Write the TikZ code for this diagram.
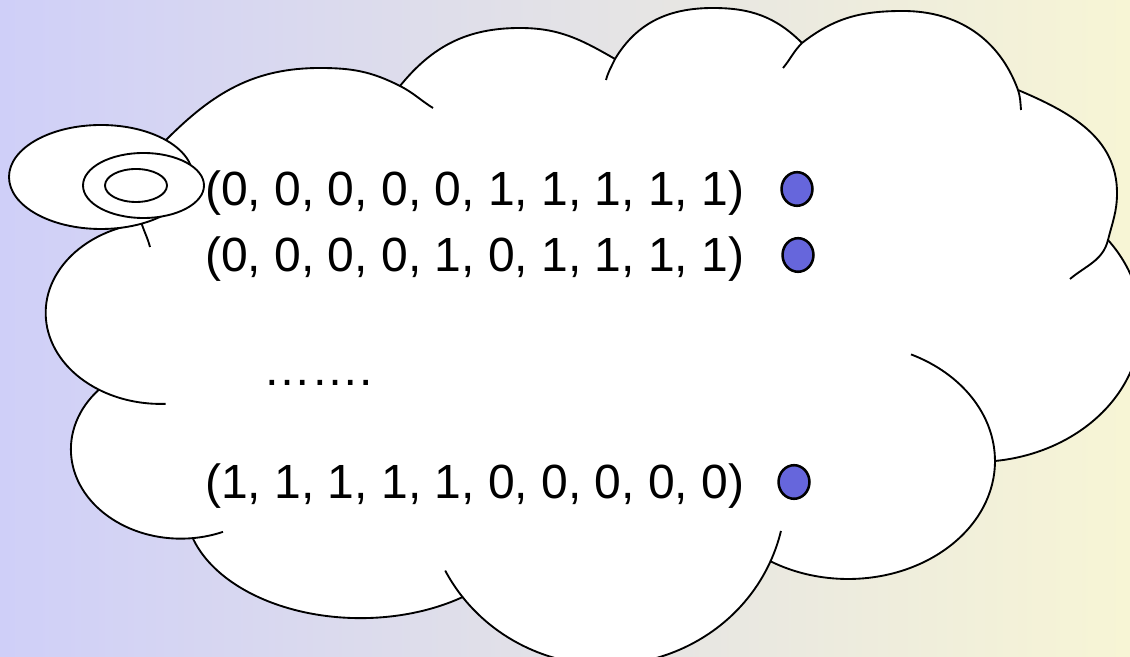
\documentclass[tikz,border=0pt]{standalone}
\usepackage{fontspec}
\setmainfont{Liberation Sans}
\usetikzlibrary{shapes.geometric}
\definecolor{bgleft}{RGB}{207,207,248}
\definecolor{bgright}{RGB}{247,245,213}
\definecolor{dotblue}{RGB}{102,102,220}
\begin{document}
\begin{tikzpicture}[x=0.75pt,y=0.75pt,
  outline/.style={draw=black,line width=1.4pt,line join=round},
  cloudbody/.style={outline,fill=white},
  bubble/.style={cloudbody,shape=ellipse,inner sep=0pt},
  rowtext/.style={anchor=base west,inner sep=0pt,font=\fontsize{36pt}{43pt}\selectfont},
  marker/.style={shape=ellipse,draw=black,line width=1.9pt,fill=dotblue,inner sep=0pt,
                 minimum width=23.2pt,minimum height=25.2pt}]
\useasboundingbox (0,0) rectangle (1130,656);
\clip (0,0) rectangle (1130,656);
% background
\shade[left color=bgleft,right color=bgright] (0,0) rectangle (1130,656);

% cloud outline: bezier lobes along the top, elliptic lobes round the bottom
\draw[cloudbody] (141.5,432.8) coordinate (p1)
  to[out=100,in=225] (167,517) to[out=45,in=180] (320,588) to[out=0,in=153] (400,570) coordinate (p2)
  to[out=51,in=180] (520,628) to[out=0,in=150] (615,597) coordinate (p3)
  to[out=59,in=180] (713,648) to[out=0,in=135] (802,613) coordinate (p4)
  to[out=38,in=180] (903,645) to[out=0,in=110] (1018,566) coordinate (p5)
  to[out=-23,in=90] (1117,463) to[out=-90,in=76] (1108,416) coordinate (p6)
  arc[start angle=36.87,end angle=-83.4,x radius=165,y radius=138.7] coordinate (p7)
  arc[start angle=0,end angle=-121.8,x radius=147,y radius=118] coordinate (p8)
  arc[start angle=-23.6,end angle=-142.6,x radius=180,y radius=173] coordinate (p9)
  arc[start angle=-54.3,end angle=-163.4,x radius=175,y radius=112] coordinate (p10)
  arc[start angle=276.2,end angle=138.2,x radius=110,y radius=89.4] coordinate (p11)
  arc[start angle=237.5,end angle=99.6,x radius=115,y radius=91]
  -- cycle;

% inner ends of the lobes
\draw[outline] (p1) to[out=-72,in=105] (150,409);
\draw[outline] (p2) to[out=-27,in=148] (433,548);
\draw[outline] (p3) to[out=-115,in=75] (606,576);
\draw[outline] (p4) to[out=-135,in=50] (783,588);
\draw[outline] (p5) to[out=-72,in=95] (1021,546);
\draw[outline] (p6) to[out=-104,in=40] (1070,377);
\draw[outline] (p7) arc[start angle=0,end angle=64.6,x radius=147,y radius=118];
\draw[outline] (p8) arc[start angle=-23.6,end angle=-13,x radius=180,y radius=173];
\draw[outline] (p9) arc[start angle=-142.6,end angle=-153,x radius=180,y radius=173];
\draw[outline] (p10) arc[start angle=276.2,end angle=292.5,x radius=110,y radius=89.4];
\draw[outline] (p11) arc[start angle=237.5,end angle=272.5,x radius=115,y radius=91];

% thought bubbles
\node[bubble,minimum width=138pt,minimum height=78pt] (bigbubble) at (101,479) {};
\node[bubble,minimum width=90.75pt,minimum height=48.75pt] (midbubble) at (143.5,470.5) {};
\node[bubble,minimum width=46.5pt,minimum height=24.75pt] (smallbubble) at (136,470.5) {};

% rows
\node[rowtext] (row1) at (205,450) {(0, 0, 0, 0, 0, 1, 1, 1, 1, 1)};
\node[rowtext] (row2) at (205,384) {(0, 0, 0, 0, 1, 0, 1, 1, 1, 1)};
\node[rowtext] (gap) at (263,270) {…….};
\node[rowtext] (row3) at (205,157) {(1, 1, 1, 1, 1, 0, 0, 0, 0, 0)};

\node[marker] (dot1) at (797,467) {};
\node[marker] (dot2) at (798,401) {};
\node[marker] (dot3) at (794,174) {};
\end{tikzpicture}
\end{document}
